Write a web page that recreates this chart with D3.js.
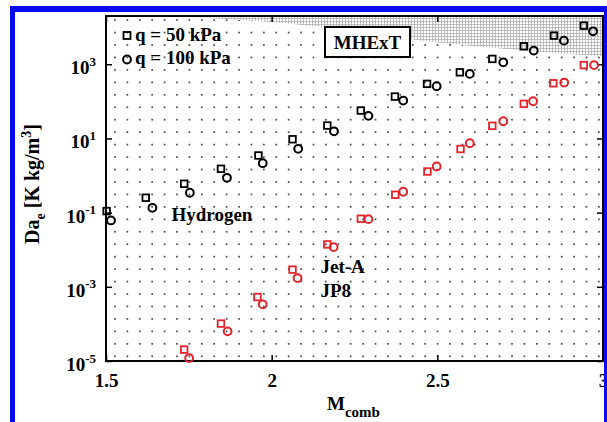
<!DOCTYPE html>
<html>
<head>
<meta charset="utf-8">
<script src="https://cdn.jsdelivr.net/npm/d3@7"></script>
<style>
  html, body { margin: 0; padding: 0; background: #fff; }
  svg { display: block; }
  text { font-family: "Liberation Serif", "Times New Roman", serif; font-weight: bold; fill: #000; }
</style>
</head>
<body>
<svg id="chart" width="607" height="422"></svg>
<script>
// Damköhler number vs. combustor Mach number, MHExT
const hydrogenM50  = [1.502, 1.620, 1.736, 1.847, 1.960, 2.063, 2.168, 2.269, 2.372, 2.469, 2.568, 2.666, 2.761, 2.852, 2.942];
const hydrogenDa50 = [0.110, 0.252, 0.60, 1.52, 3.47, 9.5, 22.3, 56.5, 134.6, 296, 607, 1393, 3048, 5915, 10990];
const hydrogenM100  = [1.515, 1.640, 1.753, 1.865, 1.973, 2.080, 2.188, 2.292, 2.397, 2.498, 2.598, 2.699, 2.791, 2.882, 2.970];
const hydrogenDa100 = [0.0615, 0.135, 0.343, 0.87, 2.15, 5.25, 15.6, 40.6, 105, 255, 550, 1130, 2333, 4335, 7727];
const jetM50  = [1.736, 1.847, 1.957, 2.063, 2.168, 2.269, 2.373, 2.470, 2.570, 2.666, 2.761, 2.850, 2.942];
const jetDa50 = [2.03e-5, 1.02e-4, 5.3e-4, 2.9e-3, 0.0139, 0.0684, 0.303, 1.285, 5.19, 21.9, 85.5, 307, 949];
const jetM100  = [1.751, 1.867, 1.973, 2.078, 2.187, 2.292, 2.397, 2.498, 2.598, 2.699, 2.789, 2.883, 2.973];
const jetDa100 = [1.2e-5, 6.3e-5, 3.37e-4, 1.72e-3, 0.01175, 0.0667, 0.365, 1.75, 7.43, 29.1, 100.5, 321, 949];

// upper bound of the shaded (hatched) region
const boundM  = [1.70, 2.085, 2.508, 3.0];
const boundDa = [20000, 11700, 3830, 1607];

const xTicks = [1.5, 2, 2.5, 3];
const xTickLabels = ["1.5", "2", "2.5", "3"];
const yTicks = [1e-5, 1e-3, 1e-1, 1e1, 1e3];
const yTickExps = ["-5", "-3", "-1", "1", "3"];

(function draw() {
  const svg = d3.select("#chart");
  const H = 422;
  const pl = 106, pr = 603, pt = 16, pb = 361;
  const RED = "#e3242b";
  const BLUE = "#0a0af0";

  const x = d3.scaleLinear().domain([1.5, 3]).range([pl, pr]);
  const y = d3.scaleLog().domain([1e-5, 2e4]).range([pb, pt]);

  const defs = svg.append("defs");
  defs.append("clipPath").attr("id", "plotClip")
    .append("rect").attr("x", pl).attr("y", pt).attr("width", pr - pl).attr("height", pb - pt);
  const pat = defs.append("pattern").attr("id", "hatch").attr("patternUnits", "userSpaceOnUse")
    .attr("width", 3).attr("height", 3);
  pat.append("rect").attr("width", 3).attr("height", 3).attr("fill", "#fff");
  pat.append("path").attr("d", "M0,0.5H3M0.5,0V3").attr("stroke", "#b0b0b0").attr("stroke-width", 0.8);

  const plot = svg.append("g").attr("clip-path", "url(#plotClip)");

  // dotted background lattice
  const colStep = 0.03745, rowStep = 0.3357;
  const cols = d3.range(1.527, 2.995, colStep);
  const rows = d3.range(-4.873, 4.29, rowStep);
  const dots = [];
  rows.forEach(r => cols.forEach(c => dots.push([c, Math.pow(10, r)])));
  plot.append("g").selectAll("rect").data(dots).join("rect")
    .attr("x", d => x(d[0]) - 0.85).attr("y", d => y(d[1]) - 0.85)
    .attr("width", 1.7).attr("height", 1.7).attr("fill", "#4a4a4a");

  // hatched region above the bound
  const boundPts = boundM.map((m, i) => [m, boundDa[i]]);
  const area = d3.area().x(d => x(d[0])).y0(y(2e4)).y1(d => y(d[1])).curve(d3.curveMonotoneX);
  plot.append("path").datum(boundPts).attr("d", area).attr("fill", "url(#hatch)");

  // axes with inward ticks
  const fmtAxis = g => g.call(s => s.select(".domain").remove())
    .selectAll(".tick line").attr("stroke", "#000").attr("stroke-width", 1.5);

  svg.append("g").attr("transform", `translate(0,${pb})`)
    .call(d3.axisBottom(x).tickValues(xTicks).tickSize(-6).tickSizeOuter(0).tickPadding(12.5)
      .tickFormat((d, i) => xTickLabels[i]))
    .call(fmtAxis)
    .call(g => g.selectAll("text").attr("font-size", 19).attr("fill", "#000")
      .style("font-family", "Liberation Serif").style("font-weight", "bold"));
  svg.append("g").attr("transform", `translate(0,${pt})`)
    .call(d3.axisTop(x).tickValues(xTicks).tickSize(-6).tickSizeOuter(0).tickFormat(""))
    .call(fmtAxis);

  const yl = svg.append("g").attr("transform", `translate(${pl},0)`)
    .call(d3.axisLeft(y).tickValues(yTicks).tickSize(-6).tickSizeOuter(0).tickPadding(10).tickFormat(""))
    .call(fmtAxis);
  yl.selectAll(".tick text").each(function (d, i) {
    const t = d3.select(this).attr("dy", null).attr("y", 9.5)
      .attr("font-size", 19).attr("fill", "#000")
      .style("font-family", "Liberation Serif").style("font-weight", "bold");
    t.text(null);
    t.append("tspan").text("10");
    t.append("tspan").attr("dy", -8.5).attr("font-size", 13).text(yTickExps[i]);
  });
  svg.append("g").attr("transform", `translate(${pr},0)`)
    .call(d3.axisRight(y).tickValues(yTicks).tickSize(-6).tickSizeOuter(0).tickFormat(""))
    .call(fmtAxis);

  // plot frame
  svg.append("rect").attr("x", pl).attr("y", pt).attr("width", pr - pl).attr("height", pb - pt)
    .attr("fill", "none").attr("stroke", "#000").attr("stroke-width", 2);

  // markers
  const sq = 6.6, cr = 3.9;
  function squares(ms, vs, color) {
    svg.append("g").selectAll("rect").data(ms.map((m, i) => [m, vs[i]])).join("rect")
      .attr("x", d => x(d[0]) - sq / 2).attr("y", d => y(d[1]) - sq / 2)
      .attr("width", sq).attr("height", sq)
      .attr("fill", "none").attr("stroke", color).attr("stroke-width", 1.8);
  }
  function circles(ms, vs, color) {
    svg.append("g").selectAll("circle").data(ms.map((m, i) => [m, vs[i]])).join("circle")
      .attr("cx", d => x(d[0])).attr("cy", d => y(d[1])).attr("r", cr)
      .attr("fill", "none").attr("stroke", color).attr("stroke-width", 2);
  }
  squares(hydrogenM50, hydrogenDa50, "#000");
  circles(hydrogenM100, hydrogenDa100, "#000");
  squares(jetM50, jetDa50, RED);
  circles(jetM100, jetDa100, RED);

  // legend
  const lg = svg.append("g");
  lg.append("rect").attr("x", 127 - 3.5).attr("y", 35.5 - 3.5).attr("width", 7).attr("height", 7)
    .attr("fill", "none").attr("stroke", "#000").attr("stroke-width", 1.8);
  lg.append("circle").attr("cx", 127).attr("cy", 59.5).attr("r", 3.9)
    .attr("fill", "none").attr("stroke", "#000").attr("stroke-width", 2);
  lg.append("text").attr("x", 135).attr("y", 40.5).attr("font-size", 19).text("q = 50 kPa");
  lg.append("text").attr("x", 135).attr("y", 64).attr("font-size", 19).text("q = 100 kPa");

  // MHExT box
  svg.append("rect").attr("x", 325).attr("y", 27).attr("width", 85).attr("height", 30)
    .attr("fill", "#fff").attr("stroke", "#000").attr("stroke-width", 2);
  svg.append("text").attr("x", 367.5).attr("y", 48.5).attr("text-anchor", "middle").attr("font-size", 19).text("MHExT");

  // series annotations
  svg.append("text").attr("x", 171.5).attr("y", 221).attr("font-size", 19).text("Hydrogen");
  svg.append("text").attr("x", 320.5).attr("y", 273).attr("font-size", 19).text("Jet-A");
  svg.append("text").attr("x", 320.5).attr("y", 297).attr("font-size", 19).text("JP8");

  // axis titles
  const xt = svg.append("text").attr("x", 327).attr("y", 410).attr("font-size", 19);
  xt.append("tspan").text("M");
  xt.append("tspan").attr("dy", 7).attr("font-size", 15).text("comb");

  const yt = svg.append("text").attr("transform", "translate(39,184) rotate(-90)")
    .attr("text-anchor", "middle").attr("font-size", 20);
  yt.append("tspan").text("Da");
  yt.append("tspan").attr("dy", 6).attr("font-size", 14).text("e");
  yt.append("tspan").attr("dy", -6).text(" [K kg/m");
  yt.append("tspan").attr("dy", -8).attr("font-size", 14).text("3");
  yt.append("tspan").attr("dy", 8).text("]");

  // blue frame drawn last so it trims the edge of the figure
  svg.append("rect").attr("x", 10).attr("y", 6).attr("width", 597).attr("height", 6).attr("fill", BLUE);
  svg.append("rect").attr("x", 10).attr("y", 6).attr("width", 5).attr("height", H - 6).attr("fill", BLUE);
  svg.append("rect").attr("x", 604).attr("y", 6).attr("width", 3).attr("height", H - 6).attr("fill", BLUE);
})();
</script>
</body>
</html>
